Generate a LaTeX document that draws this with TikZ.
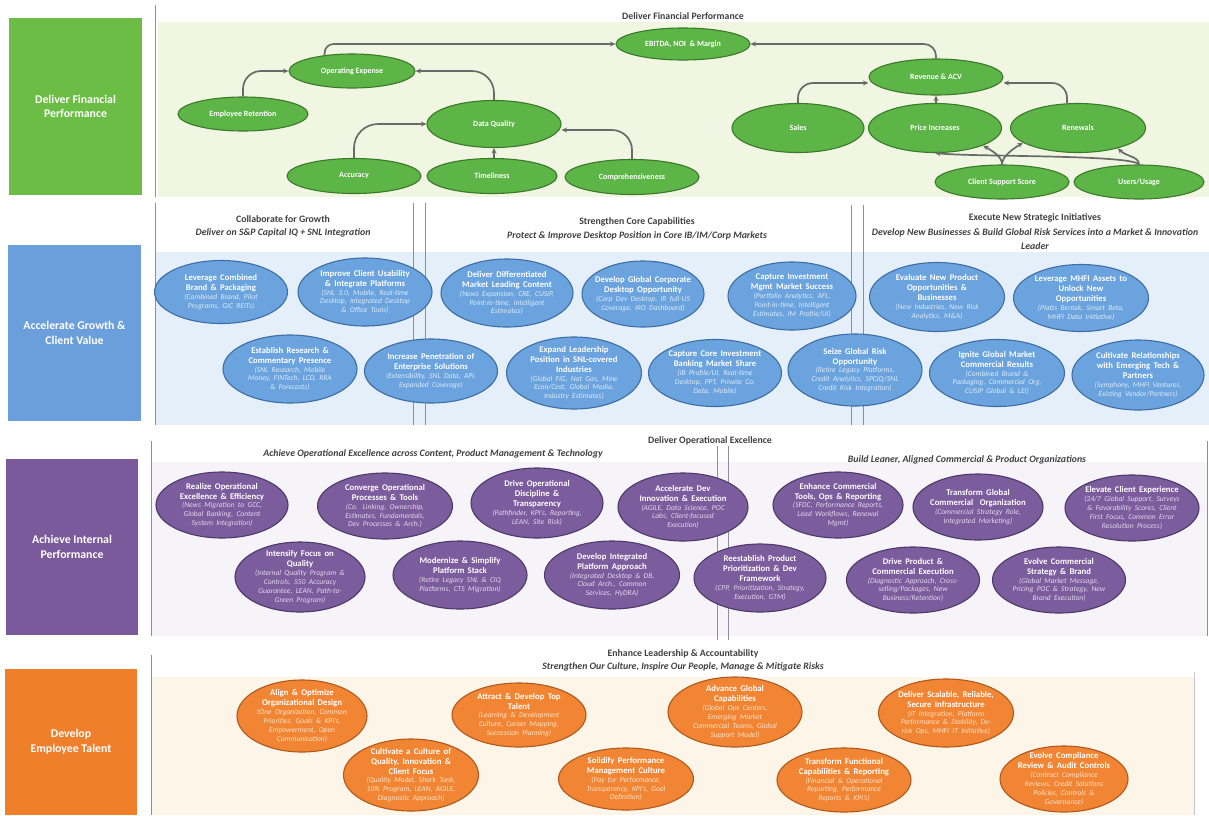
\documentclass[tikz,border=0pt]{standalone}
\usepackage{fontspec}
\setmainfont{Carlito}
\usetikzlibrary{shapes.geometric,arrows.meta,calc}
\definecolor{gbox}{HTML}{6CBD45}
\definecolor{gfill}{HTML}{5CB546}
\definecolor{gdraw}{HTML}{3B7A2A}
\definecolor{gband}{HTML}{F1F6E2}
\definecolor{bbox}{HTML}{6B9FDB}
\definecolor{bfill}{HTML}{6AA3DD}
\definecolor{bdraw}{HTML}{3F6EA5}
\definecolor{bband}{HTML}{E4EFF9}
\definecolor{bludet}{HTML}{DDEBFA}
\definecolor{pbox}{HTML}{7A5A9B}
\definecolor{pfill}{HTML}{7B5C9C}
\definecolor{pdraw}{HTML}{4E3A6A}
\definecolor{pband}{HTML}{F6F4F8}
\definecolor{purdet}{HTML}{E2D8EE}
\definecolor{obox}{HTML}{F07F2C}
\definecolor{ofill}{HTML}{F28533}
\definecolor{odraw}{HTML}{B0591E}
\definecolor{oband}{HTML}{FDF6E8}
\definecolor{orgdet}{HTML}{FDE2C8}
\definecolor{hdr}{HTML}{404040}
\definecolor{arrc}{HTML}{6A6A6A}
\definecolor{sepc}{HTML}{8E8E9A}
\newcommand\ttlf{\bfseries\fontsize{8.7}{10}\selectfont}
\newcommand\dtlf{\itshape\fontsize{7.5}{8.9}\selectfont}
\newcommand\ovl[8]{%
  \node[#1, minimum width=#5pt, minimum height=#6pt] (#2) at (#3,#4) {};
  \node[ovtxt] (#2t) at (#2.center) {{\ttlf #7\par}{\dtlf\color{#1det}#8\par}};}
\begin{document}
\begin{tikzpicture}[x=1pt,y=-1pt,
  ovbase/.style={ellipse, inner sep=0pt, line width=1.1pt},
  gel/.style={ovbase, fill=gfill, draw=gdraw, text=white, font=\bfseries\fontsize{8}{9}\selectfont},
  blu/.style={ovbase, fill=bfill, draw=bdraw},
  pur/.style={ovbase, fill=pfill, draw=pdraw},
  org/.style={ovbase, fill=ofill, draw=odraw},
  ovtxt/.style={text width=128pt, align=center, inner sep=0pt, text=white},
  lbox/.style={rectangle, inner sep=0pt, text=white, align=center, font=\bfseries\fontsize{11.8}{14.5}\selectfont},
  hd/.style={inner sep=0pt, text=hdr, font=\bfseries\fontsize{9.8}{13.5}\selectfont},
  hdi/.style={hd, font=\bfseries\itshape\fontsize{9.8}{13.5}\selectfont},
  sepl/.style={draw=sepc, line width=0.9pt},
  arw/.style={draw=arrc, line width=1.7pt, -{Stealth[length=5.5pt,width=5pt]}}]
\useasboundingbox (0,0) rectangle (1209,815);
\fill[white] (0,0) rectangle (1209,815);
% bands
\fill[gband] (158,22) rectangle (1209,197);
\fill[bband] (156,252) rectangle (1209,425);
\fill[pband] (152,462) rectangle (1207,636);
\fill[oband] (152,677) rectangle (1194,815);
% separators
\draw[sepl] (155,5) -- (155,197);
\draw[sepl] (155,203) -- (155,425);
\draw[sepl] (413,203) -- (413,425);
\draw[sepl] (425,203) -- (425,425);
\draw[sepl] (851,205) -- (851,425);
\draw[sepl] (863,205) -- (863,425);
\draw[sepl] (151,441) -- (151,636);
\draw[sepl] (717,446) -- (717,640);
\draw[sepl] (728,446) -- (728,640);
\draw[sepl] (1207,441) -- (1207,636);
\draw[sepl] (151,655) -- (151,815);
\draw[sepl, draw=sepc!50] (1194,672) -- (1194,815);
% left labels
\node[lbox, fill=gbox, minimum width=133pt, minimum height=177pt] (L1) at (75.5,106.5) {Deliver Financial\\Performance};
\node[lbox, fill=bbox, minimum width=133pt, minimum height=176pt] (L2) at (74.5,333) {Accelerate Growth \&\\Client Value};
\node[lbox, fill=pbox, minimum width=132pt, minimum height=176pt] (L3) at (72,547) {Achieve Internal\\Performance};
\node[lbox, fill=obox, minimum width=132pt, minimum height=146pt] (L4) at (71,742) {Develop\\Employee Talent};
% headers
\node[hd] (h1) at (683,16) {Deliver Financial Performance};
\node[hd] (h2a) at (283,219) {Collaborate for Growth};
\node[hdi] (h2b) at (283,233) {Deliver on S\&P Capital IQ + SNL Integration};
\node[hd] (h3a) at (637,222) {Strengthen Core Capabilities};
\node[hdi] (h3b) at (637,236) {Protect \& Improve Desktop Position in Core IB/IM/Corp Markets};
\node[hd] (h4a) at (1035,218) {Execute New Strategic Initiatives};
\node[hdi, align=center] (h4b) at (1035,239) {Develop New Businesses \& Build Global Risk Services into a Market \& Innovation\\Leader};
\node[hd] (h5) at (710,441) {Deliver Operational Excellence};
\node[hdi] (h6) at (433,454) {Achieve Operational Excellence across Content, Product Management \& Technology};
\node[hdi] (h7) at (967,460) {Build Leaner, Aligned Commercial \& Product Organizations};
\node[hd] (h8) at (683,654) {Enhance Leadership \& Accountability};
\node[hdi] (h9) at (683,667) {Strengthen Our Culture, Inspire Our People, Manage \& Mitigate Risks};
% top section
\node[gel, minimum width=134pt, minimum height=32pt] (eb) at (683,44) {EBITDA, NOI\ \ \& Margin};
\node[gel, minimum width=126pt, minimum height=34pt] (op) at (352,71) {Operating Expense};
\node[gel, minimum width=130pt, minimum height=34pt] (er) at (243,114) {Employee Retention};
\node[gel, minimum width=134pt, minimum height=47pt] (dq) at (494,124) {Data Quality};
\node[gel, minimum width=134pt, minimum height=35pt] (acc) at (354,176) {Accuracy};
\node[gel, minimum width=130pt, minimum height=35pt] (tim) at (492,176) {Timeliness};
\node[gel, minimum width=134pt, minimum height=35pt] (comp) at (632,177) {Comprehensiveness};
\node[gel, minimum width=134pt, minimum height=36pt] (rev) at (936,77) {Revenue \& ACV};
\node[gel, minimum width=132pt, minimum height=49pt] (sales) at (798,128) {Sales};
\node[gel, minimum width=133pt, minimum height=49pt] (price) at (935,128) {Price Increases};
\node[gel, minimum width=135pt, minimum height=49pt] (ren) at (1078,128) {Renewals};
\node[gel, minimum width=134pt, minimum height=34pt] (csc) at (1002,182) {Client Support Score};
\node[gel, minimum width=130pt, minimum height=34pt] (users) at (1139,182) {Users/Usage};
% top arrows
\draw[arw, rounded corners=9pt] (op.150) |- (eb.west);
\draw[arw, rounded corners=18pt] (er.north) |- (op.west);
\draw[arw, rounded corners=22pt] (dq.north) |- (op.east);
\draw[arw, rounded corners=24pt] (acc.north) |- (dq.west);
\draw[arw] (dq.south |- tim.north) -- (dq.south);
\draw[arw, rounded corners=20pt] (comp.north) |- ([yshift=-6pt]dq.east);
\draw[arw, rounded corners=12pt] (rev.north) |- (eb.east);
\draw[arw, rounded corners=15pt] (sales.north) |- ([yshift=-6pt]rev.west);
\draw[arw] (rev.south |- price.north) -- (rev.south);
\draw[arw, rounded corners=15pt] ([xshift=-11pt]ren.north) |- ([yshift=-6pt]rev.east);
\draw[arw] (csc.north) .. controls +(0,-8) and +(10,6) .. (price.340);
\draw[arw] (csc.north) .. controls +(0,-8) and +(-10,6) .. (ren.195);
\draw[arw] (users.north) .. controls +(-8,-10) and +(40,4) .. (price.south);
\draw[arw] (users.north) .. controls +(0,-8) and +(8,8) .. (ren.333);
% blue
\ovl{blu}{b1}{221}{292}{133}{63}{Leverage Combined\\Brand \& Packaging}{(Combined Brand, Pilot\\Programs, GIC REITs)}
\ovl{blu}{b2}{365}{292}{134}{68}{Improve Client Usability\\\& Integrate Platforms}{(SNL 3.0, Mobile, Real-time\\Desktop, Integrated Desktop\\\& Office Tools)}
\ovl{blu}{b3}{507}{293}{132}{68}{Deliver Differentiated\\Market Leading Content}{(News Expansion, CRE, CUSIP,\\Point-in-time, Intelligent\\Estimates)}
\ovl{blu}{b4}{643}{294}{122}{66}{Develop Global Corporate\\Desktop Opportunity}{(Corp Dev Desktop, IR full-US\\Coverage, IRO Dashboard)}
\ovl{blu}{b5}{792}{296}{128}{68}{Capture Investment\\Mgmt Market Success}{(Portfolio Analytics, AFL,\\Point-in-time, Intelligent\\Estimates, IM Profile/UI)}
\ovl{blu}{b6}{937}{297}{135}{69}{Evaluate New Product\\Opportunities \&\\Businesses}{(New Industries, New Risk\\Analytics, M\&A)}
\ovl{blu}{b7}{1081}{298}{135}{67}{Leverage MHFI Assets to\\Unlock New\\Opportunities}{(Platts Bentek, Smart Beta,\\MHFI Data Initiative)}
\ovl{blu}{b8}{290}{369}{134}{68}{Establish Research \&\\Commentary Presence}{(SNL Research, Mobile\\Money, FINTech, LCD, RRA\\\& Forecasts)}
\ovl{blu}{b9}{431}{371}{133}{64}{Increase Penetration of\\Enterprise Solutions}{(Extensibility, SNL Data, API,\\Expanded Coverage)}
\ovl{blu}{b10}{574}{373}{135}{72}{Expand Leadership\\Position in SNL-covered\\Industries}{(Global FIG, Nat Gas, Mine\\Econ/Cost, Global Media,\\Industry Estimates)}
\ovl{blu}{b11}{715}{373}{133}{67}{Capture Core Investment\\Banking Market Share}{(IB Profile/UI, Real-time\\Desktop, PPT, Private Co.\\Data, Mobile)}
\ovl{blu}{b12}{855}{370}{134}{72}{Seize Global Risk\\Opportunity}{(Retire Legacy Platforms,\\Credit Analytics, SPCIQ/SNL\\Credit Risk Integration)}
\ovl{blu}{b13}{997}{373}{135}{67}{Ignite Global Market\\Commercial Results}{(Combined Brand \&\\Packaging, Commercial Org,\\CUSIP Global \& LEI)}
\ovl{blu}{b14}{1138}{375}{132}{70}{Cultivate Relationships\\with Emerging Tech \&\\Partners}{(Symphony, MHFI Ventures,\\Existing Vendor/Partners)}
% purple
\ovl{pur}{p1}{222}{505}{132}{66}{Realize Operational\\Excellence \& Efficiency}{(News Migration to GCC,\\Global Banking, Content\\System Integration)}
\ovl{pur}{p2}{385}{506}{135}{66}{Converge Operational\\Processes \& Tools}{(Co. Linking, Ownership,\\Estimates, Fundamentals,\\Dev Processes \& Arch.)}
\ovl{pur}{p3}{537}{503}{132}{70}{Drive Operational\\Discipline \&\\Transparency}{(Pathfinder, KPI's, Reporting,\\LEAN, Site Risk)}
\ovl{pur}{p4}{683}{507}{130}{68}{Accelerate Dev\\Innovation \& Execution}{(AGILE, Data Science, POC\\Labs, Client-focused\\Execution)}
\ovl{pur}{p5}{838}{505}{130}{66}{Enhance Commercial\\Tools, Ops \& Reporting}{(SFDC, Performance Reports,\\Lead Workflows, Renewal\\Mgmt)}
\ovl{pur}{p6}{978}{507}{130}{66}{Transform Global\\Commercial\ \ Organization}{(Commercial Strategy Role,\\Integrated Marketing)}
\ovl{pur}{p7}{1132}{508}{134}{66}{Elevate Client Experience}{(24/7 Global Support, Surveys\\\& Favorability Scores, Client\\First Focus, Common Error\\Resolution Process)}
\ovl{pur}{p8}{300}{577}{130}{70}{Intensify Focus on\\Quality}{(Internal Quality Program \&\\Controls, 550 Accuracy\\Guarantee, LEAN, Path-to-\\Green Program)}
\ovl{pur}{p9}{460}{575}{134}{68}{Modernize \& Simplify\\Platform Stack}{(Retire Legacy SNL \& CIQ\\Platforms, CTS Migration)}
\ovl{pur}{p10}{612}{575}{135}{68}{Develop Integrated\\Platform Approach}{(Integrated Desktop \& DB,\\Cloud Arch., Common\\Services, HyDRA)}
\ovl{pur}{p11}{760}{578}{132}{68}{Reestablish Product\\Prioritization \& Dev\\Framework}{(CPP, Prioritization, Strategy,\\Execution, GTM)}
\ovl{pur}{p12}{913}{580}{133}{66}{Drive Product \&\\Commercial Execution}{(Diagnostic Approach, Cross-\\selling/Packages, New\\Business/Retention)}
\ovl{pur}{p13}{1059}{580}{133}{66}{Evolve Commercial\\Strategy \& Brand}{(Global Market Message,\\Pricing POC \& Strategy, New\\Brand Execution)}
% orange
\ovl{org}{o1}{302}{716}{130}{72}{Align \& Optimize\\Organizational Design}{(One Organization, Common\\Priorities, Goals \& KPI's,\\Empowerment, Open\\Communication)}
\ovl{org}{o2}{519}{715}{134}{64}{Attract \& Develop Top\\Talent}{(Learning \& Development\\Culture, Career Mapping,\\Succession Planning)}
\ovl{org}{o3}{735}{712}{134}{70}{Advance Global\\Capabilities}{(Global Ops Centers,\\Emerging Market\\Commercial Teams, Global\\Support Model)}
\ovl{org}{o4}{946}{713}{135}{68}{Deliver Scalable, Reliable,\\Secure Infrastructure}{(IT Integration, Platform\\Performance \& Stability, De-\\risk Ops, MHFI IT Initiative)}
\ovl{org}{o5}{411}{775}{135}{72}{Cultivate a Culture of\\Quality, Innovation \&\\Client Focus}{(Quality Model, Shark Tank,\\10\% Program, LEAN, AGILE,\\Diagnostic Approach)}
\ovl{org}{o6}{626}{779}{135}{62}{Solidify Performance\\Management Culture}{(Pay for Performance,\\Transparency, KPI's, Goal\\Definition)}
\ovl{org}{o7}{844}{780}{134}{64}{Transform Functional\\Capabilities \& Reporting}{(Financial \& Operational\\Reporting, Performance\\Reports \& KPI's)}
\ovl{org}{o8}{1064}{779}{128}{66}{Evolve Compliance\\Review \& Audit Controls}{(Contract Compliance\\Reviews, Credit Solutions\\Policies, Controls \&\\Governance)}
\end{tikzpicture}
\end{document}
